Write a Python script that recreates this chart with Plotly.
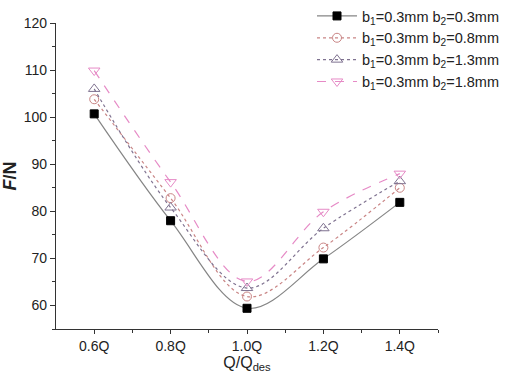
import plotly.graph_objects as go

x_vals = [0.6, 0.8, 1.0, 1.2, 1.4]
x_labels = ["0.6Q", "0.8Q", "1.0Q", "1.2Q", "1.4Q"]
s1 = [100.7, 78.0, 59.4, 69.9, 81.9]
s2 = [103.8, 82.8, 61.9, 72.3, 85.0]
s3 = [106.0, 80.8, 63.7, 76.4, 86.4]
s4 = [109.9, 86.2, 65.1, 79.9, 88.0]
names = ["b<sub>1</sub>=0.3mm b<sub>2</sub>=0.3mm",
         "b<sub>1</sub>=0.3mm b<sub>2</sub>=0.8mm",
         "b<sub>1</sub>=0.3mm b<sub>2</sub>=1.3mm",
         "b<sub>1</sub>=0.3mm b<sub>2</sub>=1.8mm"]

styles = [
    dict(line=dict(color="#858585", width=1.2, dash="solid", shape="spline", smoothing=1.0),
         marker=dict(symbol="square", size=8, color="black", line=dict(color="black", width=1))),
    dict(line=dict(color="#c98585", width=1.2, dash="dot", shape="spline", smoothing=1.0),
         marker=dict(symbol="circle-open", size=9, color="#c98585", line=dict(width=1))),
    dict(line=dict(color="#7f7290", width=1.2, dash="dot", shape="spline", smoothing=1.0),
         marker=dict(symbol="triangle-up-open", size=10, color="#7f7290", line=dict(width=1))),
    dict(line=dict(color="#e68ac6", width=1.2, dash="dash", shape="spline", smoothing=1.0),
         marker=dict(symbol="triangle-down-open", size=10, color="#e68ac6", line=dict(width=1))),
]

fig = go.Figure()
for ys, nm, st in zip([s1, s2, s3, s4], names, styles):
    fig.add_trace(go.Scatter(x=x_vals, y=ys, name=nm, mode="lines+markers", **st))

fig.update_layout(
    width=505, height=382,
    margin=dict(l=56, r=67, t=23, b=53, autoexpand=False),
    paper_bgcolor="white", plot_bgcolor="white",
    font=dict(family="Liberation Sans, Arial, sans-serif", color="#222222", size=14),
    showlegend=True,
    legend=dict(x=1.0, y=1.008, xref="container", yref="container", xanchor="right", yanchor="top",
                bgcolor="rgba(0,0,0,0)", font=dict(size=14.5, color="#222222"),
                tracegroupgap=0, itemwidth=40),
    xaxis=dict(range=[0.5, 1.5], tickvals=x_vals, ticktext=x_labels,
               showline=True, linecolor="#333333", linewidth=1.2,
               ticks="outside", ticklen=4, tickcolor="#333333", showgrid=False, zeroline=False,
               minor=dict(tickvals=[0.7, 0.9, 1.1, 1.3, 1.5], ticks="outside", ticklen=3, tickcolor="#333333"),
               title=dict(text="Q/Q<sub>des</sub>", font=dict(size=16), standoff=2)),
    yaxis=dict(range=[55, 120], tickvals=[60, 70, 80, 90, 100, 110, 120],
               showline=True, linecolor="#333333", linewidth=1.2,
               ticks="outside", ticklen=5, tickcolor="#333333", showgrid=False, zeroline=False,
               minor=dict(tickvals=[55, 65, 75, 85, 95, 105, 115], ticks="outside", ticklen=3, tickcolor="#333333"),
               title=dict(text="<b><i>F</i>/N</b>", font=dict(size=18), standoff=6)),
)

fig.write_html("out.html", config={"displayModeBar": False},
               post_script="document.body.style.margin='0';document.body.style.overflow='hidden';")
